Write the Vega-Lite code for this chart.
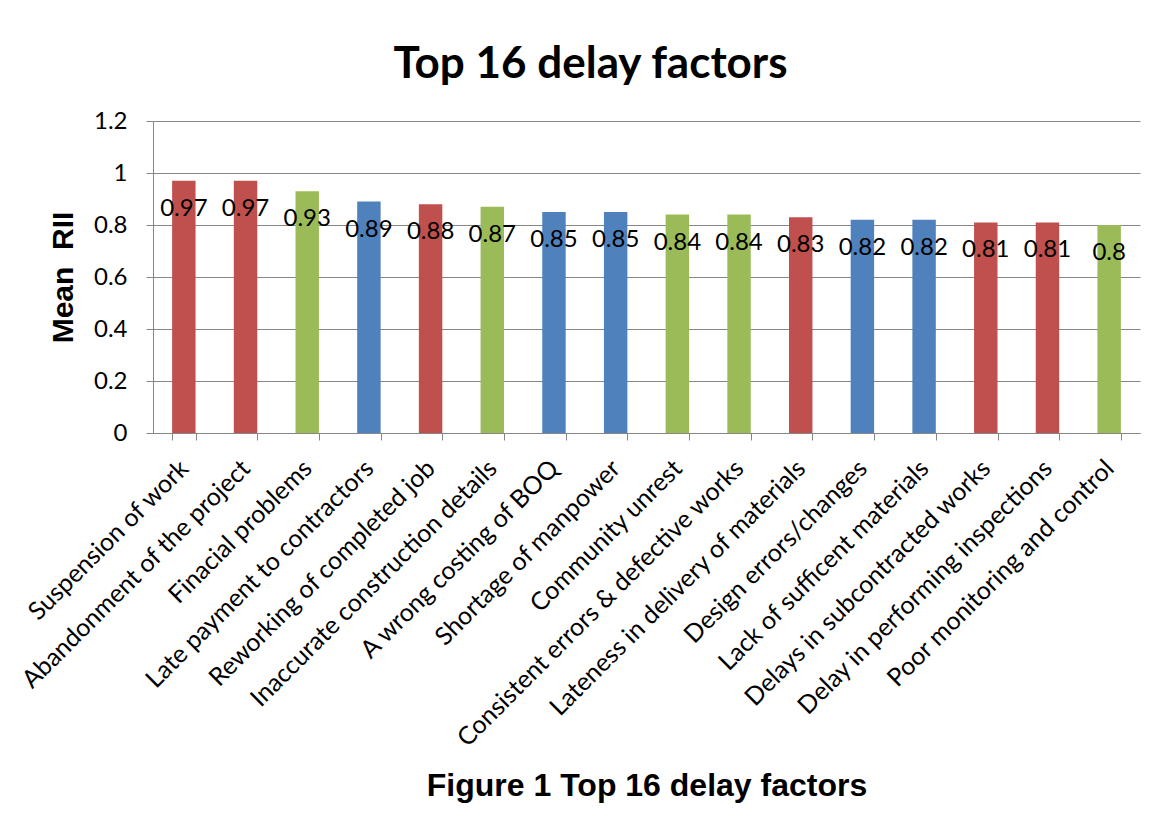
{
  "$schema": "https://vega.github.io/schema/vega-lite/v6.json",
  "autosize": {"type": "none"},
  "width": 987,
  "height": 312,
  "padding": {"left": 153, "top": 121, "right": 19, "bottom": 386},
  "background": "white",
  "title": {
    "text": "Top 16 delay factors",
    "font": "Lato",
    "fontWeight": "bold",
    "fontSize": 44,
    "color": "black",
    "anchor": "middle",
    "frame": "group",
    "baseline": "alphabetic",
    "offset": 44,
    "dx": -56,
    "dy": 57
  },
  "data": {
    "values": [
      {"factor": "Suspension of work", "rii": 0.97, "group": "A"},
      {"factor": "Abandonment of the project", "rii": 0.97, "group": "A"},
      {"factor": "Finacial problems", "rii": 0.93, "group": "B"},
      {"factor": "Late payment to contractors", "rii": 0.89, "group": "C"},
      {"factor": "Reworking of completed job", "rii": 0.88, "group": "A"},
      {"factor": "Inaccurate construction details", "rii": 0.87, "group": "B"},
      {"factor": "A wrong costing of BOQ", "rii": 0.85, "group": "C"},
      {"factor": "Shortage of manpower", "rii": 0.85, "group": "C"},
      {"factor": "Community unrest", "rii": 0.84, "group": "B"},
      {"factor": "Consistent errors & defective works", "rii": 0.84, "group": "B"},
      {"factor": "Lateness in delivery of materials", "rii": 0.83, "group": "A"},
      {"factor": "Design errors/changes", "rii": 0.82, "group": "C"},
      {"factor": "Lack of sufficent materials", "rii": 0.82, "group": "C"},
      {"factor": "Delays in subcontracted works", "rii": 0.81, "group": "A"},
      {"factor": "Delay in performing inspections", "rii": 0.81, "group": "A"},
      {"factor": "Poor monitoring and control", "rii": 0.8, "group": "B"}
    ]
  },
  "encoding": {
    "x": {
      "field": "factor",
      "type": "nominal",
      "sort": null,
      "scale": {"paddingInner": 0.62, "paddingOuter": 0.31},
      "axis": {
        "title": "Figure 1 Top 16 delay factors",
        "titleFont": "Liberation Sans",
        "titleFontWeight": "bold",
        "titleFontSize": 32,
        "titleColor": "black",
        "titleBaseline": "alphabetic",
        "titleY": 362,
        "labelAngle": -45,
        "labelAlign": "right",
        "labelBaseline": "middle",
        "labelFont": "Lato",
        "labelFontSize": 25,
        "labelColor": "black",
        "labelPadding": 24,
        "labelOffset": 0,
        "labelLimit": 0,
        "labelOverlap": false,
        "tickBand": "extent",
        "tickSize": 7,
        "tickColor": "#868686",
        "domainColor": "#868686",
        "grid": false
      }
    },
    "y": {
      "field": "rii",
      "type": "quantitative",
      "scale": {"domain": [0, 1.2], "nice": false},
      "axis": {
        "title": "Mean\u00a0\u00a0RII",
        "titleFont": "Liberation Sans",
        "titleFontWeight": "bold",
        "titleFontSize": 30,
        "titleColor": "black",
        "titleBaseline": "alphabetic",
        "titleAngle": -90,
        "titleAlign": "center",
        "titleX": -81,
        "titleY": 156,
        "values": [0, 0.2, 0.4, 0.6, 0.8, 1, 1.2],
        "format": "~g",
        "labelFont": "Lato",
        "labelFontSize": 24,
        "labelColor": "black",
        "labelPadding": 19,
        "tickSize": 7,
        "tickColor": "#868686",
        "domainColor": "#868686",
        "grid": true,
        "gridColor": "#868686",
        "gridWidth": 1
      }
    }
  },
  "layer": [
    {
      "mark": {"type": "bar"},
      "encoding": {
        "color": {
          "field": "group",
          "type": "nominal",
          "scale": {"domain": ["A", "B", "C"], "range": ["#C0504D", "#9BBB59", "#4F81BD"]},
          "legend": null
        }
      }
    },
    {
      "mark": {"type": "text", "font": "Lato", "fontSize": 24, "color": "black", "baseline": "middle", "align": "center", "dy": 28},
      "encoding": {
        "text": {"field": "rii", "type": "quantitative", "format": "~g"}
      }
    }
  ],
  "config": {
    "view": {"stroke": null},
    "axis": {"domainWidth": 1, "tickWidth": 1}
  }
}
